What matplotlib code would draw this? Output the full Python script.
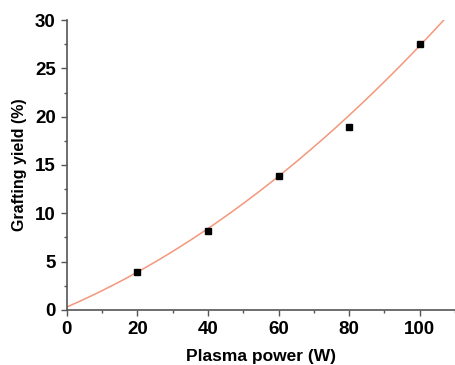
import numpy as np
import matplotlib
matplotlib.use("Agg")
import matplotlib.pyplot as plt
from matplotlib.ticker import MultipleLocator

power = [20, 40, 60, 80, 100]
yield_pct = [3.96, 8.2, 13.85, 18.9, 27.5]

plt.rcParams['font.family'] = ['Liberation Sans', 'DejaVu Sans']
plt.rcParams['font.weight'] = 'bold'

fig, ax = plt.subplots(figsize=(4.55, 3.65), dpi=100)
fig.subplots_adjust(left=0.147, right=1.0, top=0.945, bottom=0.151)

# second order fit forced through the origin
p = np.array(power, dtype=float)
A = np.column_stack([p, p**2])
(a, b), *_ = np.linalg.lstsq(A, np.array(yield_pct), rcond=None)
xf = np.linspace(0, 107.5, 200)
ax.plot(xf, 0.3 + a*xf + b*xf**2, color="#f4977a", lw=1.1, zorder=1)
ax.plot(power, yield_pct, "s", color="black", ms=4.5, zorder=2)

ax.set_xlim(0, 110)
ax.set_ylim(0, 30)
ax.xaxis.set_major_locator(MultipleLocator(20))
ax.xaxis.set_minor_locator(MultipleLocator(10))
ax.yaxis.set_major_locator(MultipleLocator(5))
ax.yaxis.set_minor_locator(MultipleLocator(2.5))
ax.spines['top'].set_visible(False)
ax.spines['right'].set_visible(False)
for s in ['left', 'bottom']:
    ax.spines[s].set_color("#555555")
    ax.spines[s].set_linewidth(1.2)
ax.tick_params(which='major', length=4, width=1, color="#555555", labelsize=13.5, pad=4)
ax.tick_params(which='minor', length=2.5, width=1, color="#555555")
ax.set_xlabel("Plasma power (W)", fontsize=12.5, fontweight='bold', labelpad=8)
ax.set_ylabel("Grafting yield (%)", fontsize=11.5, fontweight='bold', labelpad=6)

fig.savefig("out.png", dpi=100)
